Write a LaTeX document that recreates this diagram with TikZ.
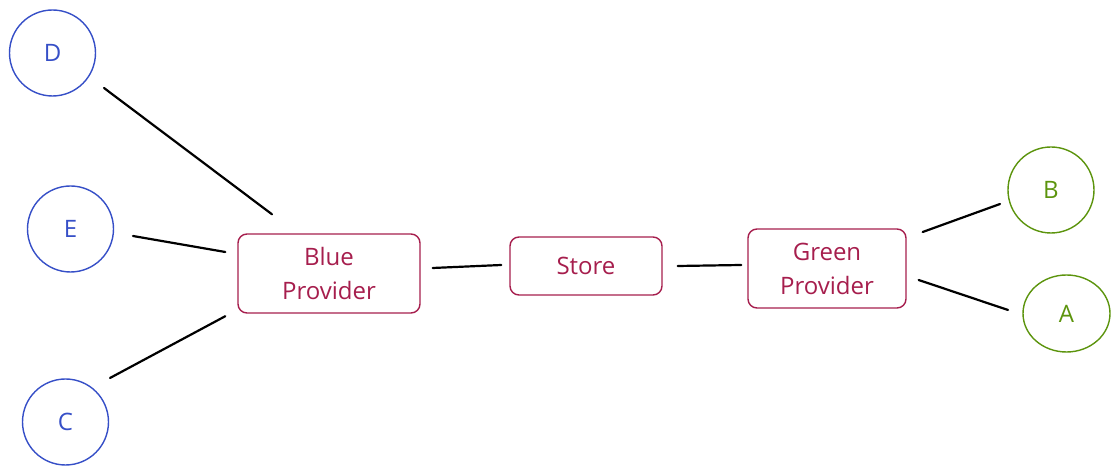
\documentclass[tikz,border=0pt]{standalone}
\usepackage{fontspec}
\setmainfont{Open Sans}
\usetikzlibrary{calc,shapes.geometric}
\definecolor{cblue}{HTML}{364FC7}
\definecolor{cgreen}{HTML}{5C940D}
\definecolor{cred}{HTML}{A61E4D}
\tikzset{
  bluecirc/.style={circle,draw=cblue,text=cblue,line width=1.4pt,minimum size=86pt,inner sep=0pt,font=\fontsize{24}{28}\selectfont},
  greencirc/.style={ellipse,draw=cgreen,text=cgreen,line width=1.4pt,inner sep=0pt,font=\fontsize{24}{28}\selectfont},
  provbox/.style={rectangle,rounded corners=9pt,draw=cred,text=cred,line width=1.4pt,inner sep=0pt,align=center,font=\fontsize{24}{34}\selectfont},
  conn/.style={draw=black,line width=2.2pt,line cap=round}
}
\begin{document}
\begin{tikzpicture}[x=1pt,y=1pt]
\useasboundingbox (0,0) rectangle (1120,476);
\node[bluecirc] (D) at (52.5,423) {D};
\node[bluecirc] (E) at (70.5,247) {E};
\node[bluecirc] (C) at (65.5,54) {C};
\node[greencirc,minimum width=86pt,minimum height=86pt] (B) at (1051,286) {B};
\node[greencirc,minimum width=87pt,minimum height=77pt] (A) at (1066.5,162.5) {A};
\node[provbox,minimum width=182pt,minimum height=79pt] (Blue) at (329,202.5) {Blue\\Provider};
\node[provbox,minimum width=152pt,minimum height=58pt] (Store) at (586,210) {Store};
\node[provbox,minimum width=158pt,minimum height=79pt] (Green) at (827,207.5) {Green\\Provider};
\draw[conn] ($(D)+(51.5,-35)$) -- ($(Blue.north)+(-57,19)$);
\draw[conn] ($(E)+(62.5,-7)$) -- ($(Blue.west)+(-12,21.5)$);
\draw[conn] ($(C)+(44.5,44)$) -- ($(Blue.south west)+(-12,-2.5)$);
\draw[conn] ($(Blue.east)+(12,5.5)$) -- ($(Store.west)+(-8,1)$);
\draw[conn] ($(Store.east)+(15,0)$) -- ($(Green.west)+(-6,3.5)$);
\draw[conn] ($(Green.east)+(16,36.5)$) -- ($(B)+(-51,-14)$);
\draw[conn] ($(Green.east)+(12,-11.5)$) -- ($(A)+(-58.5,3.5)$);
\end{tikzpicture}
\end{document}
